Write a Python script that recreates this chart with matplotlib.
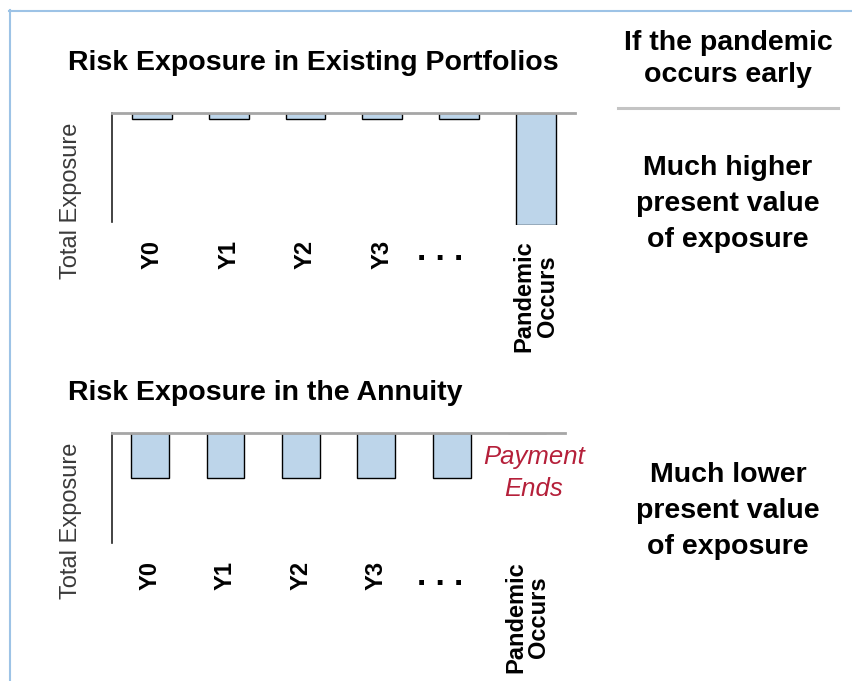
import matplotlib
matplotlib.use("Agg")
import matplotlib.pyplot as plt
from matplotlib.lines import Line2D

plt.rcParams['font.family'] = ['Liberation Sans', 'DejaVu Sans']

W, H = 852, 681

categories = ["Y0", "Y1", "Y2", "Y3", "...", "Pandemic\nOccurs"]
existing_exposure = [0.05, 0.05, 0.05, 0.05, 0.05, 1.0]
annuity_exposure = [0.41, 0.41, 0.41, 0.41, 0.41, 0.0]

title_top = "Risk Exposure in Existing Portfolios"
title_bottom = "Risk Exposure in the Annuity"
ylabel = "Total Exposure"
side_header = "If the pandemic\noccurs early"
side_top = "Much higher\npresent value\nof exposure"
side_bottom = "Much lower\npresent value\nof exposure"
payment_note = "Payment\nEnds"

BAR_FILL = "#bdd5ea"
NOTE_RED = "#b5203a"


def fx(x):
    return x / W


def fy(y):
    return 1 - y / H


fig = plt.figure(figsize=(W / 100, H / 100), dpi=100)
fig.patch.set_facecolor("white")


def make_axes(left, right, top, bottom, values, xlim, width, spine_bottom,
              label_pad, dots_x, dots_off):
    ax = fig.add_axes([fx(left), fy(bottom), fx(right) - fx(left), fy(top) - fy(bottom)])
    xs = list(range(len(categories)))
    neg = [-v for v in values]
    ax.bar(xs, neg, width=width, color=BAR_FILL, edgecolor="black",
           linewidth=1.0, zorder=2)
    ax.set_xlim(*xlim)
    ax.set_ylim(-1.0, 0)
    for s in ["right", "bottom"]:
        ax.spines[s].set_visible(False)
    ax.spines["top"].set_color("#a6a6a6")
    ax.spines["top"].set_linewidth(2)
    ax.spines["top"].set_zorder(3)
    ax.spines["left"].set_color("#222222")
    ax.spines["left"].set_linewidth(1.2)
    ax.spines["left"].set_bounds(spine_bottom, 0)
    ax.set_yticks([])
    ax.set_xticks(xs)
    labels = [c if c != "..." else "" for c in categories]
    ax.set_xticklabels(labels, rotation=90, fontsize=17, fontweight="bold",
                       va="top", ha="center", multialignment="center",
                       linespacing=1.0)
    ax.tick_params(axis="x", length=0, pad=label_pad)
    ax.set_facecolor("none")
    ax.annotate(". . .", xy=(dots_x, 0), xycoords=("data", "axes fraction"),
                xytext=(0, -dots_off), textcoords="offset pixels",
                ha="center", va="baseline", fontsize=24, fontweight="bold")
    return ax


ax1 = make_axes(112, 575, 113, 225, existing_exposure, (-0.52, 5.51), 0.52,
                -0.97, 11, 3.75, 35)
ax2 = make_axes(112, 565, 433, 543, annuity_exposure, (-0.503, 5.5), 0.5,
                -1.0, 13, 3.84, 42)

# Titles
fig.text(fx(68), fy(63), title_top, ha="left", va="center", fontsize=20.5,
         fontweight="bold")
fig.text(fx(68), fy(393), title_bottom, ha="left", va="center", fontsize=20.5,
         fontweight="bold")

# Y labels
fig.text(fx(71), fy(201), ylabel, rotation=90, ha="center", va="center",
         fontsize=17, color="#3a3a3a")
fig.text(fx(71), fy(521), ylabel, rotation=90, ha="center", va="center",
         fontsize=17, color="#3a3a3a")

# Payment ends note
fig.text(fx(534), fy(473), payment_note, ha="center", va="center",
         fontsize=18.5, style="italic", color=NOTE_RED, linespacing=1.37)

# Side texts
fig.text(fx(728), fy(59), side_header, ha="center", va="center", fontsize=20.5,
         fontweight="bold", linespacing=1.32)
fig.text(fx(728), fy(204), side_top, ha="center", va="center", fontsize=20.5,
         fontweight="bold", linespacing=1.5)
fig.text(fx(728), fy(511), side_bottom, ha="center", va="center", fontsize=20.5,
         fontweight="bold", linespacing=1.5)

# Separator line
fig.add_artist(Line2D([fx(618), fx(838)], [fy(108), fy(108)], color="#c4c4c4",
                      linewidth=2.2))

# Light blue frame
fig.add_artist(Line2D([fx(9.5), fx(9.5)], [fy(10), 0], color="#9dc3e6", linewidth=1.5))
fig.add_artist(Line2D([fx(9), 1], [fy(10.5), fy(10.5)], color="#9dc3e6", linewidth=1.5))

fig.savefig("out.png", dpi=100)
